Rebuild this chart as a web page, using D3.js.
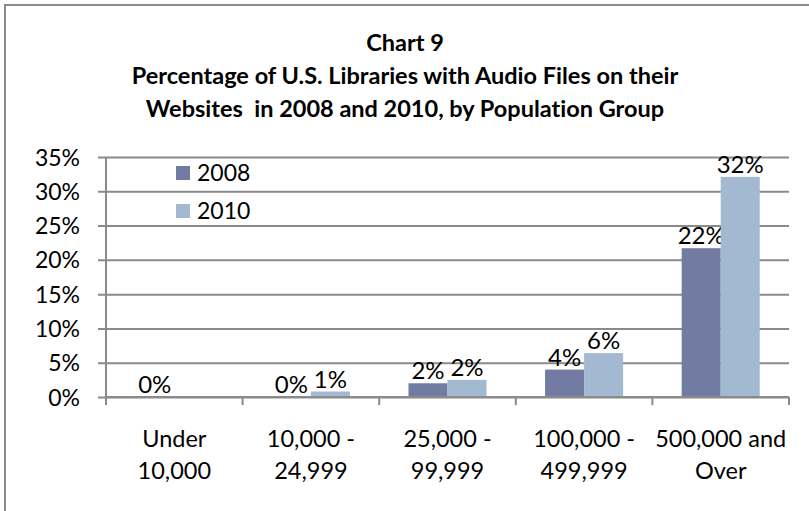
<!DOCTYPE html>
<html>
<head>
<meta charset="utf-8">
<script src="https://d3js.org/d3.v7.min.js"></script>
<style>
  body { margin: 0; background: #fff; }
  svg text { font-family: Lato, "Open Sans", sans-serif; fill: #000; font-variant-ligatures: none; }
</style>
</head>
<body>
<div id="chart"></div>
<script>
var categories = [["Under", "10,000"], ["10,000 -", "24,999"], ["25,000 -", "99,999"], ["100,000 -", "499,999"], ["500,000 and", "Over"]];
var seriesNames = ["2008", "2010"];
var values2008 = [0, 0, 2.0, 4.0, 21.7];
var values2010 = [null, 0.8, 2.5, 6.4, 32.1];
var labels2008 = ["0%", "0%", "2%", "4%", "22%"];
var labels2010 = ["", "1%", "2%", "6%", "32%"];
var yTicks = [0, 5, 10, 15, 20, 25, 30, 35];
var titleLines = ["Chart 9", "Percentage of U.S. Libraries with Audio Files on their", "Websites  in 2008 and 2010, by Population Group"];
var colors = ["#727ca3", "#a2b9d1"];

var W = 809, H = 511;
var margin = {top: 157, right: 20, bottom: 114, left: 106},
    width = W - margin.left - margin.right,
    height = H - margin.top - margin.bottom;

var svg = d3.select("#chart").append("svg")
    .attr("width", W)
    .attr("height", H);

// outer frame, only top and left edges show
svg.append("path")
  .attr("d", "M5,511 V5 H809")
  .attr("fill", "none")
  .attr("stroke", "#8a8a8a")
  .attr("stroke-width", 2);

// title
svg.append("g").selectAll("text")
  .data(titleLines)
  .enter().append("text")
    .attr("x", 405)
    .attr("y", function (d, i) { return 51 + i * 33; })
    .attr("text-anchor", "middle")
    .style("font-weight", "bold")
    .style("font-size", "23.5px")
    .style("white-space", "pre")
    .text(function (d) { return d; });

var g = svg.append("g")
  .attr("transform", "translate(" + margin.left + "," + margin.top + ")");

var x = d3.scaleBand()
  .domain(d3.range(categories.length))
  .range([0, width]);

var x1 = d3.scaleBand()
  .domain(seriesNames)
  .range([0, x.bandwidth()])
  .paddingInner(0)
  .paddingOuter(0.75);

var y = d3.scaleLinear()
  .domain([0, 35])
  .range([height, 0]);

// gridlines + y labels
g.append("g")
  .call(d3.axisLeft(y).tickValues(yTicks).tickSize(-width).tickSizeOuter(0)
    .tickFormat(function (d) { return d + "%"; }).tickPadding(26))
  .call(function (s) {
    s.select(".domain").remove();
    s.selectAll(".tick line").attr("stroke", "#8a8a8a").attr("stroke-width", 2).attr("x1", -8);
    s.selectAll(".tick text").style("font-size", "23px").attr("dy", "0.35em");
  });

// bars and value labels
var series = [values2008, values2010];
var seriesLabels = [labels2008, labels2010];
series.forEach(function (vals, si) {
  vals.forEach(function (v, i) {
    if (v === null) return;
    g.append("rect")
      .attr("x", x(i) + x1(seriesNames[si]))
      .attr("y", y(v))
      .attr("width", x1.bandwidth())
      .attr("height", height - y(v))
      .attr("fill", colors[si]);
    g.append("text")
      .attr("x", x(i) + x1(seriesNames[si]) + x1.bandwidth() / 2)
      .attr("y", y(v) - 4)
      .attr("text-anchor", "middle")
      .style("font-size", "24px")
      .text(seriesLabels[si][i]);
  });
});

// axes
g.append("line")
  .attr("x1", 0).attr("x2", 0).attr("y1", 0).attr("y2", height)
  .attr("stroke", "#8a8a8a").attr("stroke-width", 2);

var xAxis = g.append("g")
  .attr("transform", "translate(0," + height + ")");
xAxis.append("line")
  .attr("x1", 0).attr("x2", width)
  .attr("stroke", "#8a8a8a").attr("stroke-width", 2);
xAxis.selectAll(".tk")
  .data(d3.range(categories.length + 1))
  .enter().append("line")
    .attr("x1", function (d) { return d < categories.length ? x(d) : width; })
    .attr("x2", function (d) { return d < categories.length ? x(d) : width; })
    .attr("y1", 0).attr("y2", 8)
    .attr("stroke", "#8a8a8a").attr("stroke-width", 2);

categories.forEach(function (c, i) {
  c.forEach(function (line, li) {
    xAxis.append("text")
      .attr("x", x(i) + x.bandwidth() / 2)
      .attr("y", 50 + li * 32)
      .attr("text-anchor", "middle")
      .style("font-size", "23.5px")
      .text(line);
  });
});

// legend
var legend = g.append("g");
seriesNames.forEach(function (n, i) {
  legend.append("rect")
    .attr("x", 70).attr("y", 9 + i * 38)
    .attr("width", 14).attr("height", 14)
    .attr("fill", colors[i]);
  legend.append("text")
    .attr("x", 91).attr("y", 16 + i * 38)
    .attr("dy", "0.35em")
    .style("font-size", "23px")
    .text(n);
});
</script>
</body>
</html>
